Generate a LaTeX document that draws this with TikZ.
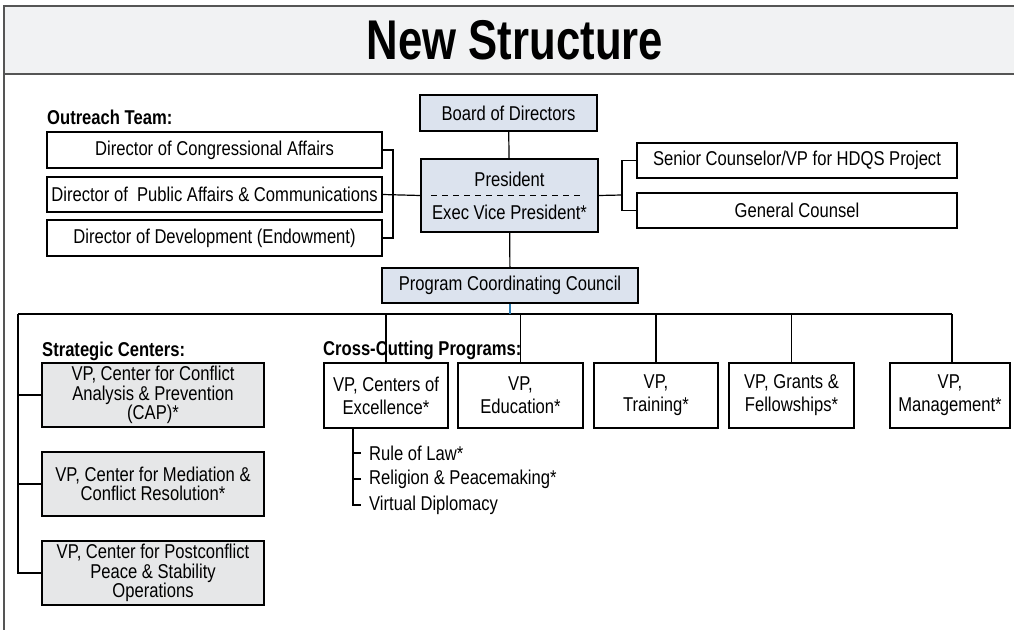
\documentclass[tikz,border=0pt]{standalone}
\usepackage{fontspec}
\setmainfont{Liberation Sans}[FakeStretch=0.83]
\newfontfamily\titlefont{Liberation Sans}[FakeStretch=0.78]
\usetikzlibrary{positioning}

\definecolor{boardblue}{HTML}{DCE3EE}
\definecolor{centergray}{HTML}{E6E7E8}
\definecolor{bandgray}{HTML}{F1F2F3}
\definecolor{framegray}{HTML}{555555}
\definecolor{linkblue}{HTML}{2A7AB0}

\newcommand{\boxfont}{\fontsize{20}{22}\selectfont}
\newcommand{\headfont}{\fontsize{20}{22}\selectfont\bfseries}

\tikzstyle{boxed}=[rectangle, draw=black, line width=1.3pt, inner sep=0pt, align=center, font=\boxfont]
\tikzstyle{topbox}=[boxed, fill=boardblue]
\tikzstyle{centerbox}=[boxed, fill=centergray, minimum width=222, minimum height=64, font=\fontsize{20}{19.5}\selectfont]
\tikzstyle{crossbox}=[boxed, minimum height=65, font=\fontsize{20}{23}\selectfont]
\tikzstyle{heading}=[anchor=base west, inner sep=0pt, font=\headfont]
\tikzstyle{item}=[anchor=west, inner xsep=8pt, inner ysep=0pt, font=\boxfont]
\tikzstyle{link}=[line width=1.2pt, draw=black]

\begin{document}
\begin{tikzpicture}[x=1pt, y=-1pt]
    \useasboundingbox (0,0) rectangle (1014,629);

    % title band and frame
    \draw[framegray, line width=2.5pt, fill=bandgray] (4,6) rectangle (1018,74);
    \draw[framegray, line width=2pt] (4,6) -- (4,631);
    \node[font=\titlefont\fontsize{56}{60}\selectfont\bfseries] (title) at (515,40) {New Structure};

    % top of the chart
    \node[topbox, minimum width=177, minimum height=36] (board) at (508.5,113) {Board of Directors};

    \node[topbox, minimum width=177, minimum height=73] (pres) at (509.5,195.5)
        {President\\[11pt]Exec Vice President*};
    \draw[dashed, line width=1pt, dash pattern=on 6pt off 5pt] ([xshift=11pt]pres.west) -- ([xshift=-14pt]pres.east);

    \node[topbox, minimum width=256, minimum height=35] (pcc) at (510,285.5) {Program Coordinating Council};

    \draw[link] (board) -- (pres);
    \draw[link] (pres) -- (pcc);

    % outreach team
    \node[heading] (outreach) at (47,124.5) {Outreach Team:};
    \node[boxed, minimum width=335, minimum height=36] (congress) at (214.5,150) {Director of Congressional Affairs};
    \node[boxed, minimum width=335, minimum height=35] (public) at (214.5,194.5) {Director of\ \ Public Affairs \& Communications};
    \node[boxed, minimum width=335, minimum height=36] (develop) at (214.5,238) {Director of Development (Endowment)};

    \coordinate (outbar) at (393,195);
    \draw[link] (congress.east) -| (outbar) |- (develop.east);
    \draw[link] (public.east) -- (pres.west);

    % staff at the right
    \node[boxed, minimum width=320, minimum height=35] (senior) at (797,160.5) {Senior Counselor/VP for HDQS Project};
    \node[boxed, minimum width=320, minimum height=35] (counsel) at (797,210.5) {General Counsel};

    \coordinate (staffbar) at (622,195);
    \draw[link] (pres.east) -- (staffbar);
    \draw[link] (senior.west) -| (staffbar) |- (counsel.west);

    % bus under the council
    \coordinate (busleft) at (18,314);
    \coordinate (busright) at (952,314);
    \draw[link] (busleft) -- (busright);
    \draw[line width=1.2pt, linkblue] (pcc.south) -- (pcc.south |- busleft);

    % strategic centers
    \node[heading] (strategic) at (42,356.5) {Strategic Centers:};
    \node[centerbox] (cap) at (153,395) {VP, Center for Conflict\\Analysis \& Prevention\\(CAP)*};
    \node[centerbox] (mediation) at (153,484) {VP, Center for Mediation \&\\Conflict Resolution*};
    \node[centerbox] (postconflict) at (153,573) {VP, Center for Postconflict\\Peace \& Stability\\Operations};

    \draw[link] (busleft) |- (postconflict.west);
    \draw[link] (busleft |- cap.west) -- (cap.west);
    \draw[link] (busleft |- mediation.west) -- (mediation.west);

    % cross-cutting programs
    \node[heading] (crosscut) at (323,355) {Cross-Cutting Programs:};
    \node[crossbox, minimum width=124] (excellence) at (386,395.5) {VP, Centers of\\Excellence*};
    \node[crossbox, minimum width=125] (education) at (520.5,395.5) {VP,\\Education*};
    \node[crossbox, minimum width=124] (training) at (656,395.5) {VP,\\Training*};
    \node[crossbox, minimum width=125] (grants) at (791.5,395.5) {VP, Grants \&\\Fellowships*};
    \node[crossbox, minimum width=120] (management) at (950,395.5) {VP,\\Management*};

    \draw[link] (excellence.north |- busleft) -- (excellence.north);
    \draw[link] (education.north |- busleft) -- (education.north);
    \draw[link] (training.north |- busleft) -- (training.north);
    \draw[link] (grants.north |- busleft) -- (grants.north);
    \draw[link] (busright) -- (busright |- management.north);

    % centers of excellence
    \node[item] (rulelaw) at (361,453) {Rule of Law*};
    \node[item] (religion) at (361,479) {Religion \& Peacemaking*};
    \node[item] (virtual) at (361,505) {Virtual Diplomacy};

    \coordinate (trunk) at (353,428);
    \draw[link] (trunk) |- (virtual.west);
    \draw[link] (trunk |- rulelaw.west) -- (rulelaw.west);
    \draw[link] (trunk |- religion.west) -- (religion.west);
\end{tikzpicture}
\end{document}
